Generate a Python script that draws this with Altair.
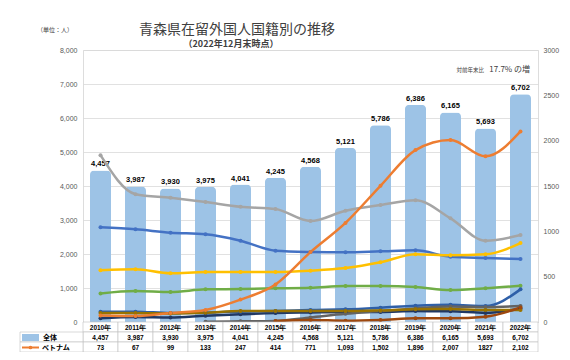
import altair as alt
import pandas as pd

years = ["2010年", "2011年", "2012年", "2013年", "2014年", "2015年", "2016年",
         "2017年", "2018年", "2019年", "2020年", "2021年", "2022年"]
total = [4457, 3987, 3930, 3975, 4041, 4245, 4568, 5121, 5786, 6386, 6165, 5693, 6702]
total_labels = ["4,457", "3,987", "3,930", "3,975", "4,041", "4,245", "4,568",
                "5,121", "5,786", "6,386", "6,165", "5,693", "6,702"]
vietnam = [73, 67, 99, 133, 247, 414, 771, 1093, 1502, 1896, 2007, 1827, 2102]
vietnam_labels = ["73", "67", "99", "133", "247", "414", "771", "1,093", "1,502",
                  "1,896", "2,007", "1827", "2,102"]
china = [1840, 1410, 1370, 1323, 1271, 1246, 1113, 1227, 1290, 1342, 1143, 896, 959]
korea = [1044, 1022, 985, 967, 896, 786, 772, 768, 779, 790, 720, 706, 695]
philippines = [570, 581, 537, 551, 551, 551, 566, 595, 658, 746, 735, 746, 871]
usa = [315, 342, 331, 360, 364, 371, 378, 397, 397, 386, 353, 371, 400]
indonesia = [114, 114, 99, 103, 114, 121, 132, 140, 158, 180, 190, 176, 360]
thailand = [40, 55, 50, 70, 85, 99, 105, 110, 110, 120, 118, 100, 150]
nepal = [None, None, None, 2, 8, 12, 50, 90, 120, 150, 170, 165, 176]
myanmar = [100, 100, 95, 103, 121, 121, 121, 121, 128, 140, 143, 132, 132]
other = [None, None, None, None, None, 10, 22, 14, 22, 40, 40, 59, 160]

series = [
    ("中国", china, "#A5A5A5"),
    ("韓国・朝鮮", korea, "#4472C4"),
    ("フィリピン", philippines, "#FFC000"),
    ("米国", usa, "#70AD47"),
    ("タイ", thailand, "#203864"),
    ("インドネシア", indonesia, "#2E5FA8"),
    ("ネパール", nepal, "#636363"),
    ("ミャンマー", myanmar, "#997300"),
    ("その他", other, "#9E480E"),
    ("ベトナム", vietnam, "#ED7D31"),
]

title_text = "青森県在留外国人国籍別の推移"
subtitle_text = "（2022年12月末時点）"
unit_text = "（単位：人）"
note_small = "対前年末比"
note_big = "17.7% の増"

FONT = "Noto Sans CJK JP"
NUMFONT = "Liberation Sans"

bars_df = pd.DataFrame({"year": years, "total": total, "tlabel": total_labels,
                        "vlabel": vietnam_labels})
rows = []
for name, vals, _ in series:
    for i, (y, v) in enumerate(zip(years, vals)):
        if v is not None:
            rows.append({"idx": i, "yl": y, "name": name, "value": v})
lines_df = pd.DataFrame(rows)

xscale = alt.Scale(domain=years, paddingInner=0, paddingOuter=0)
X = alt.X("year:N", scale=xscale, axis=None)

left_y = alt.Y("total:Q", scale=alt.Scale(domain=[0, 8000], nice=False),
               axis=alt.Axis(values=list(range(0, 8001, 1000)),
                             labelExpr="format(datum.value, ',')", title=None,
                             grid=True, gridColor="#D9D9D9", gridWidth=0.8,
                             domain=False, ticks=False, labelPadding=6,
                             labelFontSize=7, labelColor="#595959", labelFont=NUMFONT))

bars = alt.Chart(bars_df).mark_bar(size=21, color="#9DC3E6",
                                   cornerRadiusTopLeft=4, cornerRadiusTopRight=4).encode(x=X, y=left_y)
bar_text = alt.Chart(bars_df).mark_text(dy=-6, fontSize=7.5, fontWeight="bold",
                                        font=NUMFONT, color="#000000").encode(
    x=X, y=left_y, text="tlabel:N")

color = alt.Color("name:N", scale=alt.Scale(domain=[s[0] for s in series],
                                            range=[s[2] for s in series]), legend=None)
right_scale = alt.Scale(domain=[0, 3000], nice=False)
right_y = alt.Y("value:Q", scale=right_scale,
                axis=alt.Axis(orient="right", values=list(range(0, 3001, 500)),
                              labelExpr="format(datum.value, 'd')",
                              title=None, grid=False, domain=False, ticks=False,
                              labelPadding=5, labelFontSize=7, labelColor="#595959",
                              labelFont=NUMFONT))
Xl = alt.X("yl:N", scale=xscale, axis=None)
lines = alt.Chart(lines_df).mark_line(strokeWidth=2.5, interpolate="monotone").encode(
    x=Xl, y=right_y, color=color, order="idx:Q", detail="name:N")
pts = alt.Chart(lines_df).mark_point(filled=True, size=16, opacity=1).encode(
    x=Xl, y=right_y, color=color)

line_layer = alt.layer(lines, pts)
left_part = alt.layer(bars, bar_text)

# data table below the plot
cell_style = dict(fill="#FFFFFF", stroke="#BFBFBF", strokeWidth=0.6)
row_tops = [272, 282, 292]
cells = alt.layer(*[
    alt.Chart(bars_df).mark_rect(**cell_style).encode(
        x=X, y=alt.value(t), y2=alt.value(t + 10)) for t in row_tops
])
left_cells = alt.layer(*[
    alt.Chart(pd.DataFrame({"k": [1]})).mark_rect(**cell_style).encode(
        x=alt.value(-63), x2=alt.value(0), y=alt.value(t), y2=alt.value(t + 10))
    for t in row_tops[1:]
])
txt_style = dict(fontSize=6.5, fontWeight="bold", font=NUMFONT, color="#000000")
hdr = alt.Chart(bars_df).mark_text(**txt_style).encode(
    x=X, y=alt.value(277.5), text="year:N")
row1 = alt.Chart(bars_df).mark_text(**txt_style).encode(
    x=X, y=alt.value(287.5), text="tlabel:N")
row2 = alt.Chart(bars_df).mark_text(**txt_style).encode(
    x=X, y=alt.value(297.5), text="vlabel:N")

one = pd.DataFrame({"k": [1]})
sw_bar = alt.Chart(one).mark_rect(color="#9DC3E6").encode(
    x=alt.value(-61), x2=alt.value(-44), y=alt.value(284), y2=alt.value(291))
sw_line = alt.Chart(one).mark_rule(color="#ED7D31", strokeWidth=2).encode(
    x=alt.value(-61), x2=alt.value(-44), y=alt.value(297.5))
sw_pt = alt.Chart(one).mark_point(filled=True, size=14, color="#ED7D31", opacity=1).encode(
    x=alt.value(-52.5), y=alt.value(297.5))


def label(text, x, y, size, align="center", weight="normal", color="#404040", font=FONT):
    return alt.Chart(pd.DataFrame({"t": [text]})).mark_text(
        align=align, baseline="middle", fontSize=size, fontWeight=weight, font=font,
        color=color).encode(x=alt.value(x), y=alt.value(y), text="t:N")


lab1 = label("全体", -40, 287.5, 7, "left", "bold", "#000000")
lab2 = label("ベトナム", -41, 297.5, 7, "left", "bold", "#000000")
unit = label(unit_text, -28, -20, 6)
note1 = label(note_small, 401, 20, 5.5, "right")
note2 = label(note_big, 447, 20, 8, "right")
ttl = label(title_text, 154, -20, 14)
sub = label(subtitle_text, 148, -6, 9, weight="bold")

chart = alt.layer(
    left_part, line_layer, cells, left_cells, hdr, row1, row2,
    sw_bar, sw_line, sw_pt, lab1, lab2, unit, note1, note2, ttl, sub
).resolve_scale(y="independent").properties(
    width=455, height=272,
    padding={"left": 75, "top": 42, "right": 24, "bottom": 30},
    autosize=alt.AutoSizeParams(type="none"),
).configure_view(stroke=None).configure(background="#FFFFFF")

chart.save("out.html", embed_options={"renderer": "svg", "actions": False})
